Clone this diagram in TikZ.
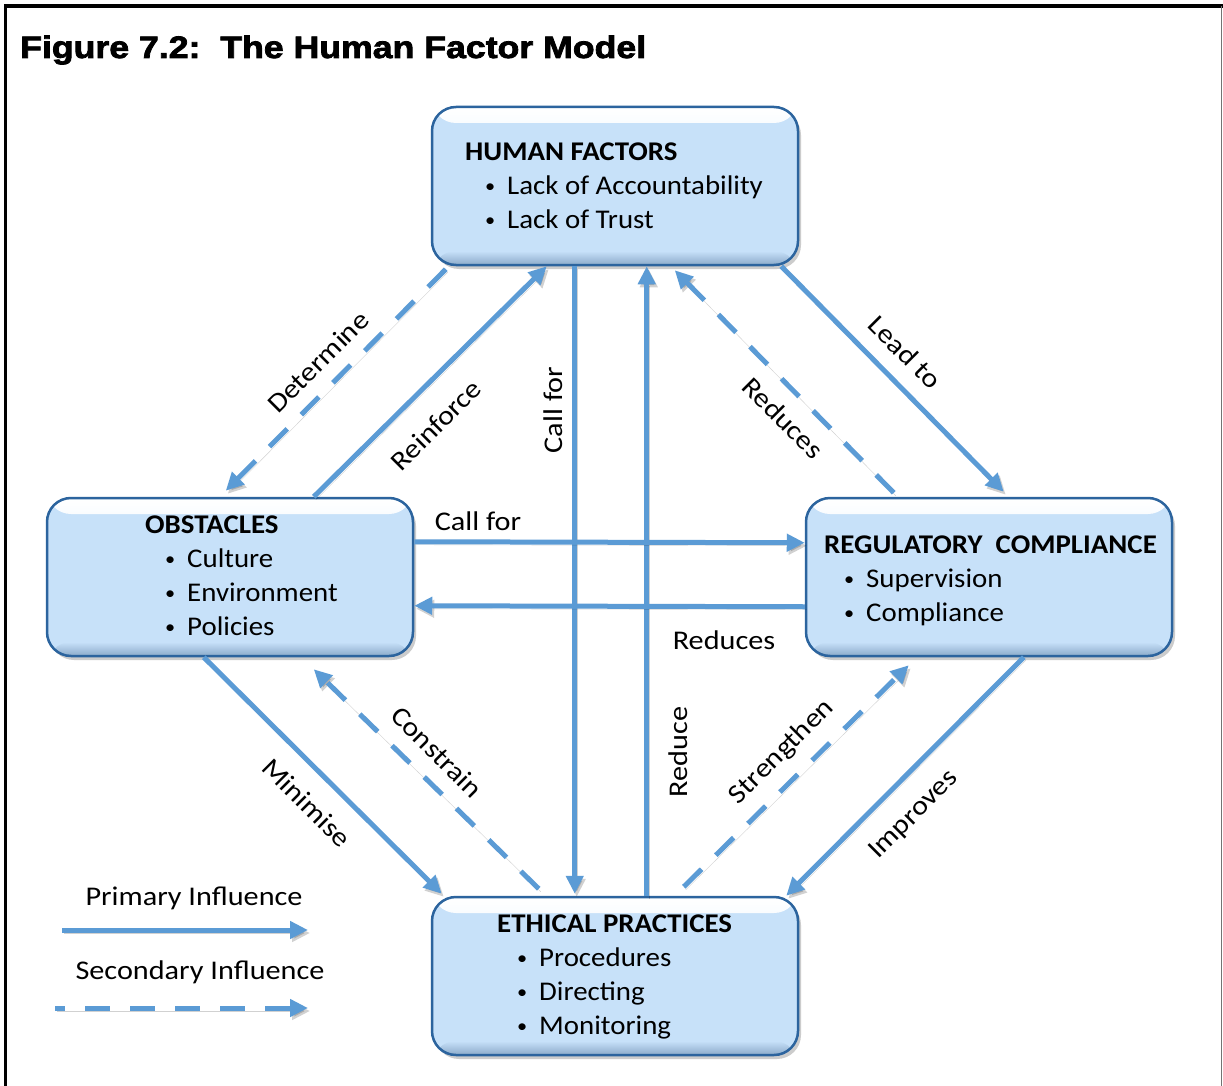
\documentclass[tikz,border=0pt]{standalone}
\usepackage{fontspec}
\setmainfont{Carlito}
\newfontfamily\boxfont{Carlito}[FakeStretch=1.07]
\newfontfamily\lblfont{Carlito}[FakeStretch=1.12]
\newfontfamily\titlefont{Liberation Sans}[BoldFeatures={FakeBold=2.5, FakeStretch=1.15}]
\usetikzlibrary{arrows.meta,calc,shadows}
\definecolor{boxfill}{RGB}{199,225,249}
\definecolor{boxborder}{RGB}{44,100,158}
\definecolor{arrowblue}{RGB}{91,155,213}
\newcommand\bul{\makebox[42pt][l]{\hspace{20pt}\raisebox{2.5pt}{\fontsize{19}{19}\selectfont\textbullet}}}
\begin{document}
\begin{tikzpicture}[x=1pt,y=-1pt,
  box/.style={draw=boxborder, line width=2.5pt, fill=boxfill, rounded corners=24pt,
    minimum width=366pt, minimum height=158pt, inner sep=0pt,
    drop shadow={opacity=0.4, shadow xshift=3pt, shadow yshift=-4pt},
    path picture={
      \shade[top color=white, bottom color=boxfill]
        (path picture bounding box.north west) rectangle ($(path picture bounding box.north east)+(0,16)$);
      \shade[top color=boxfill, bottom color=boxborder!55]
        ($(path picture bounding box.south west)+(0,-14)$) rectangle (path picture bounding box.south east);
    }},
  boxtext/.style={font=\boxfont\fontsize{27}{34}\selectfont, align=left, inner sep=0pt, anchor=north west},
  lbl/.style={font=\lblfont\fontsize{27}{30}\selectfont, inner sep=1pt},
  shad/.style={preaction={draw=black, opacity=0.18, transform canvas={shift={(2pt,-3pt)}}}},
  prim/.style={draw=arrowblue, line width=5pt, -{Triangle[length=18pt,width=17pt]}, shad},
  sec/.style={prim, dash pattern=on 25pt off 20pt}]
\useasboundingbox (0,0) rectangle (1223,1086);
\fill[white] (0,0) rectangle (1223,1086);
% frame
\draw[line width=4pt, black] (4,6) -- (1223,6);
\draw[line width=3pt, black] (5.5,6) -- (5.5,1086);
\draw[line width=1.5pt, black!55] (1221.5,6) -- (1221.5,1086);
% title
\node[anchor=base west, inner sep=0pt, font=\titlefont\bfseries\fontsize{31}{36}\selectfont] (title) at (20,58) {Figure 7.2:\ \ The Human Factor Model};
% boxes
\node[box] (hf) at (615,186) {};
\node[box] (obs) at (230,577) {};
\node[box] (rc) at (989,577) {};
\node[box] (ep) at (615,976) {};
% box texts
\node[boxtext] (hft) at (465,142.6) {\textbf{HUMAN FACTORS}\\\bul Lack of Accountability\\\bul Lack of Trust};
\node[boxtext] (obst) at (145,515.6) {\textbf{OBSTACLES}\\\bul Culture\\\bul Environment\\\bul Policies};
\node[boxtext] (rct) at (824,535.6) {\textbf{REGULATORY\ \ COMPLIANCE}\\\bul Supervision\\\bul Compliance};
\node[boxtext] (ept) at (497,914.6) {\textbf{ETHICAL PRACTICES}\\\bul Procedures\\\bul Directing\\\bul Monitoring};
% connectors
\draw[sec] ($(hf.south west)+(15,3)$) -- ($(obs.north west)+(180,-6)$);
\draw[prim] ($(obs.north west)+(268,0)$) -- ($(hf.south west)+(116,0)$);
\draw[prim] ($(hf.south west)+(144,0)$) -- ($(ep.north west)+(144,-2)$);
\draw[prim] ($(ep.north west)+(216,0)$) -- ($(hf.south west)+(216,0)$);
\draw[sec] ($(rc.north west)+(89,-4)$) -- ($(hf.south west)+(244,4)$);
\draw[prim] ($(hf.south east)+(-18,0)$) -- ($(rc.north west)+(199,-5)$);
\draw[prim] ($(obs.north east)+(0,45)$) -- ($(rc.north west)+(0,46)$);
\draw[prim] ($(rc.north west)+(0,110)$) -- ($(obs.north east)+(0,109)$);
\draw[prim] ($(obs.south west)+(158,0)$) -- ($(ep.north west)+(11,-2)$);
\draw[sec] ($(ep.north west)+(108,-7)$) -- ($(obs.south west)+(268,12)$);
\draw[sec] ($(ep.north west)+(253,-9)$) -- ($(rc.south west)+(104,8)$);
\draw[prim] ($(rc.south west)+(219,0)$) -- ($(ep.north east)+(-13,0)$);
% labels
\node[lbl, rotate=45] (l1) at (318,362) {Determine};
\node[lbl, rotate=45] (l2) at (436,425) {Reinforce};
\node[lbl, rotate=90] (l3) at (553,410) {Call for};
\node[lbl, rotate=-45] (l4) at (905,352) {Lead to};
\node[lbl, rotate=-45] (l5) at (783,418) {Reduces};
\node[lbl] (l6) at (478,521) {Call for};
\node[lbl] (l7) at (724,640) {Reduces};
\node[lbl, rotate=-45] (l8) at (307,803) {Minimise};
\node[lbl, rotate=-45] (l9) at (437,752) {Constrain};
\node[lbl, rotate=90] (l10) at (678,752) {Reduce};
\node[lbl, rotate=45] (l11) at (782,752) {Strengthen};
\node[lbl, rotate=45] (l12) at (914,815) {Improves};
% legend
\node[lbl] (leg1) at (194,898) {Primary Influence};
\node[lbl] (leg2) at (200,972) {Secondary Influence};
\coordinate (la) at (62,930);
\coordinate (lb) at (308,930);
\coordinate (lc) at (55,1008);
\coordinate (ld) at (308,1008);
\draw[prim] (la) -- (lb);
\draw[sec, dash phase=15pt] (lc) -- (ld);
\end{tikzpicture}
\end{document}
